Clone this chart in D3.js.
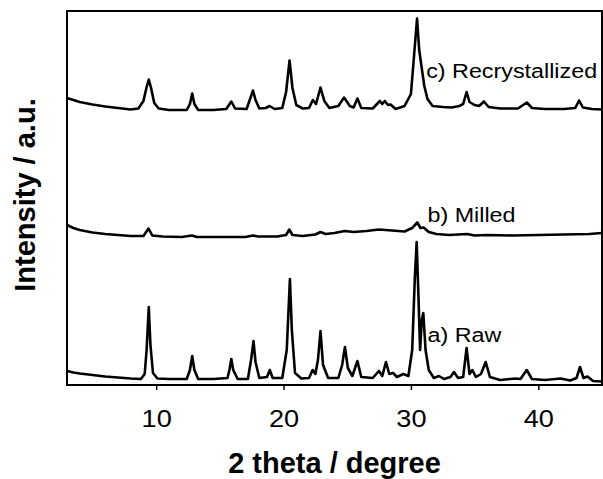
<!DOCTYPE html>
<html>
<head>
<meta charset="utf-8">
<script src="https://cdn.jsdelivr.net/npm/d3@7"></script>
<style>
  body { margin: 0; background: #fff; }
  text { font-family: "Liberation Sans", Arial, sans-serif; }
</style>
</head>
<body>
<div id="root"></div>
<script>
// Chart data (2 theta in degrees, intensity in a.u.)
const xTicks = [10, 20, 30, 40];
const sampleNames = ["a) Raw", "b) Milled", "c) Recrystallized"];
const sampleOffsets = [0, 148, 276];

const rawPattern = [
  [3.0, 14], [3.5, 12.5], [4.0, 11.5], [5.0, 10], [6.0, 8.5], [7.0, 7.5], [8.0, 6.5],
  [8.8, 6], [9.1, 11], [9.25, 35], [9.42, 78], [9.55, 40], [9.75, 12], [10.1, 6.5],
  [11.0, 6], [12.4, 6], [12.65, 15], [12.83, 29], [13.0, 15], [13.3, 6], [14.5, 6],
  [15.6, 7], [15.75, 15], [15.9, 26], [16.05, 15], [16.4, 6], [17.2, 6], [17.45, 25],
  [17.64, 44], [17.8, 23], [18.1, 7], [18.7, 8], [18.92, 15], [19.15, 7], [19.9, 7],
  [20.25, 35], [20.5, 106], [20.65, 55], [20.9, 12], [21.4, 6.5], [22.0, 7], [22.28, 15],
  [22.5, 11], [22.7, 25], [22.9, 54], [23.1, 20], [23.5, 7], [24.3, 7], [24.6, 20],
  [24.82, 38], [25.05, 17], [25.4, 9], [25.8, 24], [26.1, 8], [27.0, 7], [27.49, 14],
  [27.75, 9], [28.04, 23], [28.3, 11], [28.6, 12], [28.9, 8], [29.4, 11], [29.8, 9],
  [30.1, 35], [30.3, 105], [30.45, 143], [30.6, 85], [30.72, 35], [30.85, 65], [30.97, 72],
  [31.15, 35], [31.4, 15], [31.8, 7], [32.2, 9], [32.6, 6], [33.1, 8], [33.38, 13],
  [33.7, 7], [34.1, 8], [34.37, 37], [34.6, 11], [34.82, 15], [35.1, 8], [35.5, 11],
  [35.87, 23], [36.2, 8], [37.0, 5], [38.2, 6.5], [38.6, 6], [39.09, 15], [39.5, 6],
  [40.5, 5], [41.76, 6.5], [42.5, 4.5], [43.0, 7], [43.27, 18], [43.55, 7], [43.86, 8.5],
  [44.3, 4], [45.0, 3.5],
];

const milledPattern = [
  [3.0, 12], [3.5, 9], [4.0, 7], [5.0, 4.5], [6.0, 3], [7.0, 2], [8.0, 1], [9.0, 1],
  [9.4, 8.5], [9.7, 1.5], [10.5, 0.5], [12.0, 0], [12.8, 1.5], [13.2, 0], [15.0, 0],
  [17.0, 0], [17.6, 1.5], [18.0, 0.5], [19.5, 0.5], [20.2, 2], [20.45, 7.5], [20.7, 2],
  [21.5, 1], [22.5, 2.5], [22.9, 5], [23.3, 3], [24.0, 4], [24.8, 6], [25.5, 5],
  [26.5, 6], [27.5, 7.5], [28.5, 6.5], [29.5, 5.5], [30.1, 9], [30.5, 14.5], [30.75, 9],
  [31.0, 9.5], [31.4, 5], [32.0, 3], [33.0, 2], [34.4, 3], [35.0, 1.5], [36.0, 2],
  [38.0, 1.5], [40.0, 2], [42.0, 2.5], [44.0, 3], [45.0, 4],
];

const recrystPattern = [
  [3.0, 11], [3.5, 9], [4.0, 7], [5.0, 4.5], [6.0, 2.5], [7.0, 1], [8.0, -0.5],
  [8.6, 0.5], [9.0, 8], [9.25, 22], [9.42, 29.5], [9.6, 21], [9.85, 6], [10.2, 0.5],
  [11.0, -1], [12.4, -1], [12.65, 5], [12.83, 15.5], [13.0, 5], [13.3, -1], [14.5, -1],
  [15.5, 0], [15.9, 7.5], [16.2, 0.5], [17.1, 0], [17.4, 11], [17.6, 18.5], [17.8, 9],
  [18.1, 0.5], [18.6, 1], [18.9, 3], [19.3, 0], [19.9, 1], [20.2, 17], [20.47, 48.5],
  [20.7, 21], [21.0, 4], [21.5, 0.5], [22.0, 1], [22.3, 9], [22.55, 5], [22.9, 21.5],
  [23.2, 8], [23.6, 1], [24.3, 3], [24.75, 11.5], [25.2, 3], [25.5, 1.5], [25.8, 10.5],
  [26.1, 1], [27.0, 0.5], [27.56, 8], [27.75, 5], [27.95, 8], [28.2, 4], [28.4, 4.5],
  [28.8, 0], [29.5, 3], [30.0, 15], [30.25, 54], [30.48, 90.5], [30.65, 59], [30.87, 39],
  [31.05, 23], [31.3, 10], [31.7, 3], [32.5, 2], [33.2, 1.5], [33.8, 3], [34.1, 5],
  [34.37, 17], [34.6, 7], [35.0, 4], [35.35, 3], [35.73, 7.5], [36.1, 2], [37.0, 0.5],
  [38.4, 0.5], [39.1, 6.5], [39.5, 1], [40.5, 0], [42.0, 0], [42.9, 1], [43.2, 8.5],
  [43.5, 1.5], [44.2, 0], [45.0, -0.5],
];

const patterns = [rawPattern, milledPattern, recrystPattern];

// Draw chart
function drawChart() {
  // Set constants
  const fullWidth = 603;
  const fullHeight = 479;
  const plot = { left: 67, top: 11, right: 602, bottom: 385 };

  const svg = d3
    .select("#root")
    .append("svg")
    .attr("width", fullWidth)
    .attr("height", fullHeight)
    .style("display", "block")
    .style("background", "#fff");

  // Scales
  const xScale = d3.scaleLinear().domain([3, 45]).range([plot.left, plot.right]);
  const yScale = d3.scaleLinear().domain([0, 374]).range([plot.bottom, plot.top]);

  // X axis (ticks outside, no domain line - the frame draws it)
  const xAxis = d3
    .axisBottom(xScale)
    .tickValues(xTicks)
    .tickSize(5)
    .tickPadding(21)
    .tickFormat(d3.format("d"));

  const xAxisGroup = svg
    .append("g")
    .attr("transform", `translate(0, ${plot.bottom})`)
    .call(xAxis);

  xAxisGroup.select(".domain").remove();
  xAxisGroup.selectAll(".tick line").attr("stroke", "#000").attr("stroke-width", 1.5);
  xAxisGroup
    .selectAll(".tick text")
    .attr("fill", "#000")
    .style("font-size", "23px")
    .style("font-family", "'Liberation Sans', Arial, sans-serif")
    .attr("transform", "scale(1.18,1)");

  // Traces
  const line = d3
    .line()
    .x((d) => xScale(d[0]))
    .y((d) => yScale(d[1]));

  svg
    .append("defs")
    .append("clipPath")
    .attr("id", "plot-clip")
    .append("rect")
    .attr("x", plot.left)
    .attr("y", plot.top)
    .attr("width", plot.right - plot.left)
    .attr("height", plot.bottom - plot.top);

  patterns.forEach((pattern, i) => {
    const shifted = pattern.map(([t, v]) => [t, v + sampleOffsets[i]]);
    svg
      .append("path")
      .datum(shifted)
      .attr("clip-path", "url(#plot-clip)")
      .attr("fill", "none")
      .attr("stroke", "#000")
      .attr("stroke-width", 2.6)
      .attr("stroke-linejoin", "round")
      .attr("d", line);
  });

  // Frame
  svg
    .append("rect")
    .attr("x", plot.left)
    .attr("y", plot.top)
    .attr("width", plot.right - plot.left)
    .attr("height", plot.bottom - plot.top)
    .attr("fill", "none")
    .attr("stroke", "#000")
    .attr("stroke-width", 2);

  // Sample labels (2 theta, intensity of baseline)
  const labelSpots = [
    [31.3, 43],
    [31.3, 163],
    [31.2, 307],
  ];
  sampleNames.forEach((name, i) => {
    svg
      .append("text")
      .attr(
        "transform",
        `translate(${xScale(labelSpots[i][0])}, ${yScale(labelSpots[i][1])}) scale(1.11,1)`
      )
      .style("font-size", "21px")
      .attr("fill", "#000")
      .text(name);
  });

  // Axis titles
  svg
    .append("text")
    .attr("x", (plot.left + plot.right) / 2)
    .attr("y", 473)
    .attr("text-anchor", "middle")
    .style("font-size", "29px")
    .style("font-weight", "bold")
    .attr("fill", "#000")
    .text("2 theta / degree");

  svg
    .append("text")
    .attr("transform", "translate(35, 195) rotate(-90)")
    .attr("text-anchor", "middle")
    .style("font-size", "29px")
    .style("font-weight", "bold")
    .attr("fill", "#000")
    .text("Intensity / a.u.");
}

drawChart();
</script>
</body>
</html>
